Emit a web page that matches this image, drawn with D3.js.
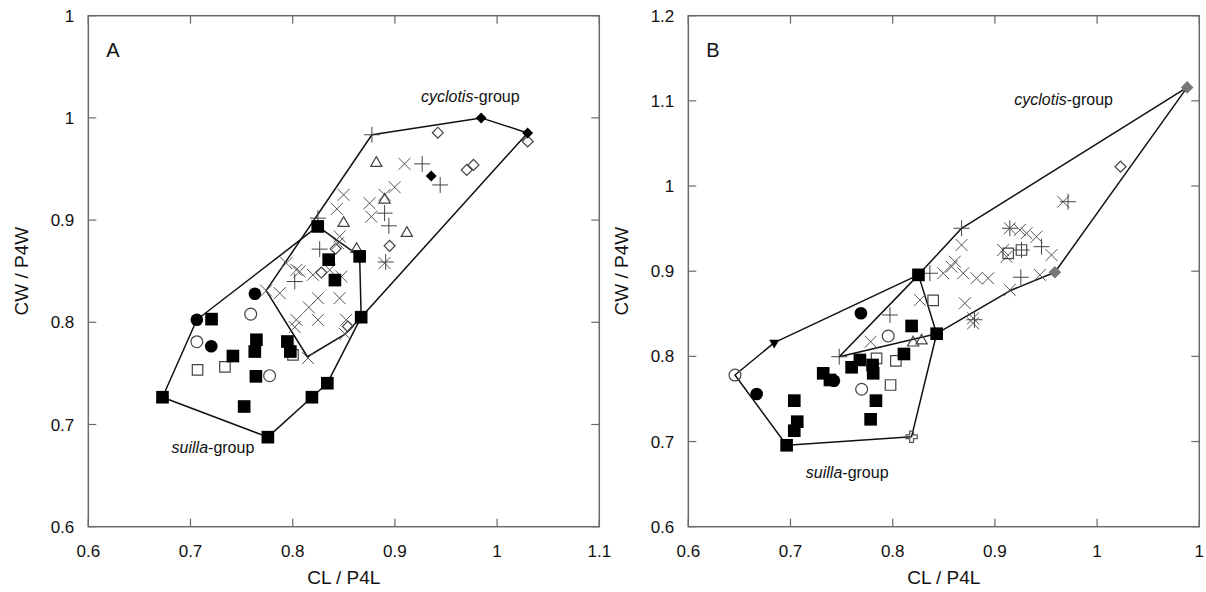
<!DOCTYPE html>
<html>
<head>
<meta charset="utf-8">
<script src="https://cdn.jsdelivr.net/npm/d3@7"></script>
<style>
    body { margin: 0; background: #fff; }
    svg { display: block; }
    text { font-family: "Liberation Sans", Arial, sans-serif; fill: #111; }
</style>
</head>
<body>
<svg id="chart" width="1206" height="592"></svg>
<script>
// tick values and labels (the figure rounds some labels to one digit)
const xTicks = [0.6, 0.7, 0.8, 0.9, 1.0, 1.1];
const xTickLabelsA = ["0.6", "0.7", "0.8", "0.9", "1", "1.1"];
const xTickLabelsB = ["0.6", "0.7", "0.8", "0.9", "1", "1"];
const yTicksA = [0.6, 0.7, 0.8, 0.9, 1.0, 1.1];
const yTickLabelsA = ["0.6", "0.7", "0.8", "0.9", "1", "1"];
const yTicksB = [0.6, 0.7, 0.8, 0.9, 1.0, 1.1, 1.2];
const yTickLabelsB = ["0.6", "0.7", "0.8", "0.9", "1", "1.1", "1.2"];

// ---- panel A data (CL/P4L, CW/P4W) ----
const hullSuillaA = [[0.6726, 0.7267], [0.7062, 0.8025], [0.8245, 0.8938], [0.8655, 0.8645],
    [0.8670, 0.8050], [0.8339, 0.7404], [0.8188, 0.7267], [0.7757, 0.6876]];
const hullCyclotisA = [[0.8775, 0.9835], [0.9844, 1.0000], [1.0299, 0.9853], [0.8670, 0.8050],
    [0.8513, 0.7885], [0.8144, 0.7663], [0.7740, 0.8310]];

const sqFilledA = [[0.6726, 0.7267], [0.7206, 0.8031], [0.7415, 0.7670], [0.7645, 0.7829],
    [0.7629, 0.7714], [0.7640, 0.7471], [0.7525, 0.7176], [0.7948, 0.7812], [0.7977, 0.7714],
    [0.8245, 0.8938], [0.8352, 0.8613], [0.8413, 0.8413], [0.8655, 0.8645], [0.8670, 0.8050],
    [0.8339, 0.7404], [0.8188, 0.7267], [0.7757, 0.6876]];
const circFilledA = [[0.7062, 0.8025], [0.7203, 0.7766], [0.7630, 0.8280]];
const circOpenA = [[0.7062, 0.7810], [0.7589, 0.8080], [0.7774, 0.7478]];
const sqOpenA = [[0.7069, 0.7534], [0.7337, 0.7563], [0.8003, 0.7681]];
const diaOpenA = [[0.9420, 0.9855], [0.9703, 0.9491], [0.9769, 0.9540], [1.0299, 0.9770],
    [0.8948, 0.8748], [0.8420, 0.8720], [0.8280, 0.8487], [0.8540, 0.7959]];
const diaFilledA = [[0.9844, 1.0000], [1.0299, 0.9853], [0.9355, 0.9432]];
const triOpenA = [[0.8818, 0.9557], [0.8498, 0.8970], [0.9117, 0.8872], [0.8899, 0.9198], [0.8625, 0.8715]];
const plusA = [[0.8775, 0.9835], [0.9267, 0.9550], [0.9443, 0.9344], [0.8899, 0.9068],
    [0.8941, 0.8944], [0.8247, 0.9019], [0.8264, 0.8716], [0.8020, 0.8399], [0.8910, 0.8590]];
const crossA = [[0.9094, 0.9550], [0.8997, 0.9322], [0.8899, 0.9247], [0.8498, 0.9247],
    [0.8433, 0.9110], [0.8752, 0.9165], [0.8769, 0.9034], [0.8899, 0.8579], [0.8443, 0.8774],
    [0.8460, 0.8840], [0.7938, 0.8579], [0.8036, 0.8513], [0.8068, 0.8497], [0.8198, 0.8464],
    [0.8362, 0.8513], [0.8476, 0.8448], [0.7873, 0.8285], [0.8247, 0.8236], [0.8459, 0.8236],
    [0.8158, 0.8146], [0.8247, 0.8024], [0.8036, 0.8024], [0.8020, 0.7953], [0.8524, 0.8024],
    [0.8150, 0.7650], [0.7740, 0.8310], [0.8513, 0.7885]];

// ---- panel B data ----
const hullSuillaB = [[0.6457, 0.7781], [0.6841, 0.8161], [0.8252, 0.8957], [0.8430, 0.8266],
    [0.8185, 0.7057], [0.6962, 0.6956]];
const hullCyclotisB = [[0.7477, 0.7996], [0.8252, 0.8957], [0.8674, 0.9504], [1.0881, 1.1158],
    [0.9587, 0.8988], [0.9146, 0.8770], [0.8430, 0.8266]];

const sqFilledB = [[0.8252, 0.8957], [0.8430, 0.8266], [0.8185, 0.8357], [0.8110, 0.8028],
    [0.7679, 0.7958], [0.7598, 0.7872], [0.7803, 0.7899], [0.7809, 0.7801], [0.7320, 0.7801],
    [0.7386, 0.7723], [0.7836, 0.7480], [0.7784, 0.7261], [0.7037, 0.7480], [0.7066, 0.7233],
    [0.7037, 0.7127], [0.6962, 0.6956]];
const circFilledB = [[0.7689, 0.8506], [0.7425, 0.7714], [0.6669, 0.7558]];
const circOpenB = [[0.6457, 0.7781], [0.7956, 0.8239], [0.7696, 0.7614]];
const sqOpenB = [[0.7842, 0.7977], [0.8031, 0.7946], [0.7979, 0.7664], [0.8396, 0.8658],
    [0.9130, 0.9210], [0.9260, 0.9249]];
const diaOpenB = [[1.0229, 1.0227]];
const diaFilledB = [[1.0881, 1.1158], [0.9587, 0.8988]];
const triOpenB = [[0.8200, 0.8160], [0.8283, 0.8184]];
const triDownB = [[0.6841, 0.8161]];
const crossOutlineB = [[0.8185, 0.7057]];
const plusB = [[0.7477, 0.7996], [0.7973, 0.8486], [0.8364, 0.8976], [0.8674, 0.9504],
    [0.9146, 0.9504], [0.9456, 0.9288], [0.9254, 0.8929], [0.9716, 0.9816], [0.9260, 0.9249],
    [0.8800, 0.8430]];
const crossB = [[0.7784, 0.8172], [0.8266, 0.8662], [0.8706, 0.8623], [0.8787, 0.8447],
    [0.8787, 0.8388], [0.9667, 0.9816], [0.8674, 0.9308], [0.9146, 0.9504], [0.9244, 0.9484],
    [0.9310, 0.9445], [0.9407, 0.9405], [0.9554, 0.9190], [0.9081, 0.9249], [0.9114, 0.9170],
    [0.9440, 0.8956], [0.9146, 0.8780], [0.8608, 0.9112], [0.8576, 0.9053], [0.8494, 0.8976],
    [0.8690, 0.8976], [0.8820, 0.8917], [0.8934, 0.8917]];

const svg = d3.select("#chart");
const plotSize = 511;
const tickLen = 8;
const frameColor = "#6a6a6a";

// marker styles: symbol type, size, fill, stroke, rotation
const markerStyles = {
    sqFilled:   { type: d3.symbolSquare, size: 160, fill: "#000", stroke: "none" },
    sqOpen:     { type: d3.symbolSquare, size: 110, fill: "none", stroke: "#444" },
    circFilled: { type: d3.symbolCircle, size: 125, fill: "#000", stroke: "none" },
    circOpen:   { type: d3.symbolCircle, size: 110, fill: "none", stroke: "#444" },
    diaFilled:  { type: d3.symbolSquare, size: 60, fill: "#000", stroke: "none", rotate: 45 },
    diaFilledG: { type: d3.symbolSquare, size: 60, fill: "#777", stroke: "#777", rotate: 45 },
    diaOpen:    { type: d3.symbolSquare, size: 60, fill: "none", stroke: "#444", rotate: 45 },
    triOpen:    { type: d3.symbolTriangle, size: 55, fill: "none", stroke: "#444" },
    triDown:    { type: d3.symbolTriangle, size: 45, fill: "#000", stroke: "none", rotate: 180 },
    crossOut:   { type: d3.symbolCross, size: 70, fill: "none", stroke: "#555" },
    plus:       { type: d3.symbolPlus, size: 85, fill: "none", stroke: "#444", width: 1.0 },
    cross:      { type: d3.symbolX, size: 95, fill: "none", stroke: "#555", width: 1.0 }
};

function drawPanel(cfg) {
    const x = d3.scaleLinear().domain([0.6, 1.1]).range([cfg.left, cfg.left + plotSize]);
    const y = d3.scaleLinear().domain(cfg.yDomain).range([cfg.top + plotSize, cfg.top]);

    const g = svg.append("g");

    // frame
    g.append("rect")
        .attr("x", cfg.left).attr("y", cfg.top)
        .attr("width", plotSize).attr("height", plotSize)
        .attr("fill", "none").attr("stroke", frameColor).attr("stroke-width", 1.5);

    // inward ticks on all four sides
    const bottom = cfg.top + plotSize, right = cfg.left + plotSize;
    xTicks.forEach(v => {
        g.append("line").attr("x1", x(v)).attr("x2", x(v)).attr("y1", bottom).attr("y2", bottom - tickLen)
            .attr("stroke", frameColor).attr("stroke-width", 1.2);
        g.append("line").attr("x1", x(v)).attr("x2", x(v)).attr("y1", cfg.top).attr("y2", cfg.top + tickLen)
            .attr("stroke", frameColor).attr("stroke-width", 1.2);
    });
    cfg.yTicks.forEach(v => {
        g.append("line").attr("x1", cfg.left).attr("x2", cfg.left + tickLen).attr("y1", y(v)).attr("y2", y(v))
            .attr("stroke", frameColor).attr("stroke-width", 1.2);
        g.append("line").attr("x1", right).attr("x2", right - tickLen).attr("y1", y(v)).attr("y2", y(v))
            .attr("stroke", frameColor).attr("stroke-width", 1.2);
    });

    // tick labels
    g.selectAll(".xlab").data(xTicks).enter().append("text")
        .attr("x", d => x(d)).attr("y", bottom + 30)
        .attr("text-anchor", "middle").style("font-size", "17px")
        .text((d, i) => cfg.xLabels[i]);
    g.selectAll(".ylab").data(cfg.yTicks).enter().append("text")
        .attr("x", cfg.left - 14).attr("y", d => y(d) + 6)
        .attr("text-anchor", "end").style("font-size", "17px")
        .text((d, i) => cfg.yLabels[i]);

    // axis titles
    g.append("text").attr("x", cfg.left + plotSize / 2).attr("y", 584)
        .attr("text-anchor", "middle").style("font-size", "19px").text("CL / P4L");
    g.append("text")
        .attr("transform", `translate(${cfg.left - 60},${cfg.top + plotSize / 2}) rotate(-90)`)
        .attr("text-anchor", "middle").style("font-size", "19px").text("CW / P4W");

    // panel letter
    g.append("text").attr("x", cfg.left + 18).attr("y", cfg.top + 41)
        .style("font-size", "20px").text(cfg.letter);

    // hull outlines
    const line = d3.line().x(d => x(d[0])).y(d => y(d[1])).curve(d3.curveLinearClosed);
    cfg.hulls.forEach(h => {
        g.append("path").attr("d", line(h))
            .attr("fill", "none").attr("stroke", "#111").attr("stroke-width", 1.5)
            .attr("stroke-linejoin", "round");
    });

    // markers, open and stroke-only first, filled on top
    cfg.markers.forEach(([key, pts]) => {
        const st = markerStyles[key];
        const sym = d3.symbol().type(st.type).size(st.size);
        g.selectAll(null).data(pts).enter().append("path")
            .attr("d", sym)
            .attr("transform", d => `translate(${x(d[0])},${y(d[1])})` + (st.rotate ? ` rotate(${st.rotate})` : ""))
            .attr("fill", st.fill)
            .attr("stroke", st.stroke)
            .attr("stroke-width", st.width || 1.2);
    });

    // group labels
    cfg.groupLabels.forEach(lb => {
        const t = g.append("text").attr("x", x(lb.x)).attr("y", y(lb.y)).style("font-size", "16px");
        t.append("tspan").style("font-style", "italic").text(lb.italic);
        t.append("tspan").text("-group");
    });
}

drawPanel({
    letter: "A", left: 88.3, top: 15.7, yDomain: [0.6, 1.1],
    yTicks: yTicksA, yLabels: yTickLabelsA, xLabels: xTickLabelsA,
    hulls: [hullSuillaA, hullCyclotisA],
    markers: [["cross", crossA], ["plus", plusA], ["triOpen", triOpenA], ["diaOpen", diaOpenA],
        ["sqOpen", sqOpenA], ["circOpen", circOpenA], ["diaFilled", diaFilledA],
        ["circFilled", circFilledA], ["sqFilled", sqFilledA]],
    groupLabels: [{ x: 0.9255, y: 1.0160, italic: "cyclotis" }, { x: 0.6815, y: 0.6725, italic: "suilla" }]
});

drawPanel({
    letter: "B", left: 688.3, top: 15.7, yDomain: [0.6, 1.2],
    yTicks: yTicksB, yLabels: yTickLabelsB, xLabels: xTickLabelsB,
    hulls: [hullSuillaB, hullCyclotisB],
    markers: [["cross", crossB], ["plus", plusB], ["triOpen", triOpenB], ["diaOpen", diaOpenB],
        ["sqOpen", sqOpenB], ["circOpen", circOpenB], ["crossOut", crossOutlineB],
        ["diaFilledG", diaFilledB], ["triDown", triDownB], ["circFilled", circFilledB],
        ["sqFilled", sqFilledB]],
    groupLabels: [{ x: 0.9190, y: 1.0950, italic: "cyclotis" }, { x: 0.7150, y: 0.6575, italic: "suilla" }]
});
</script>
</body>
</html>
